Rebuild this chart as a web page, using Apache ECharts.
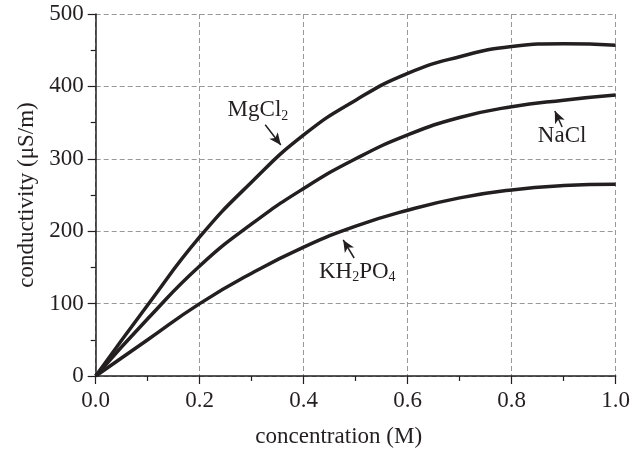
<!DOCTYPE html>
<html>
<head>
<meta charset="utf-8">
<script src="https://cdn.jsdelivr.net/npm/echarts@6/dist/echarts.min.js"></script>
<style>
  html, body { margin: 0; padding: 0; background: #fff; }
  #chart { width: 643px; height: 454px; }
</style>
</head>
<body>
<div id="chart"></div>
<script>
let concentration = [0, 0.1, 0.2, 0.3, 0.4, 0.5, 0.6, 0.7, 0.8, 0.9, 1.0];
let mgcl2 = [0, 98, 192, 268, 333, 381, 418, 441, 455, 459, 457];
let nacl = [0, 79, 152, 210, 259, 300, 333, 357, 372, 381, 388];
let kh2po4 = [0, 50, 100, 142, 178, 207, 229, 246, 257, 263, 265];

// annotation arrows: [label x, label y, arrow start x, start y, tip x, tip y]
let mgcl2Note = [0.312, 367, 0.326, 347, 0.356, 319];
let naclNote = [0.897, 331, 0.897, 344, 0.883, 366];
let kh2po4Note = [0.503, 144, 0.497, 163, 0.476, 188];

let serif = '"Liberation Serif", "Times New Roman", serif';
let ink = '#231f20';

function pairs(ys) {
    return concentration.map((x, i) => [x, ys[i]]);
}

function makeSeries(name, ys, note, labelText) {
    return {
        name: name,
        type: 'line',
        smooth: true,
        symbol: 'none',
        lineStyle: { color: ink, width: 3.5 },
        data: pairs(ys),
        markLine: {
            silent: true,
            symbol: ['none', 'arrow'],
            symbolSize: [8, 12],
            label: { show: false },
            lineStyle: { color: ink, width: 1.5, type: 'solid' },
            data: [[
                { coord: [note[2], note[3]] },
                { coord: [note[4], note[5]] }
            ]]
        },
        markPoint: {
            silent: true,
            symbol: 'circle',
            symbolSize: 0,
            data: [{ coord: [note[0], note[1]] }],
            label: {
                show: true,
                position: 'inside',
                formatter: labelText,
                color: ink,
                fontFamily: serif,
                fontSize: 23,
                rich: {
                    sub: { fontFamily: serif, fontSize: 14, color: ink, padding: [12, 0, 0, 0] }
                }
            }
        }
    };
}

let chart = echarts.init(document.getElementById('chart'));
let option = {
    backgroundColor: '#fff',
    animation: false,
    grid: { left: 95.7, right: 27.3, top: 14, bottom: 78, containLabel: false },
    xAxis: {
        type: 'value',
        min: 0,
        max: 1,
        interval: 0.2,
        name: 'concentration (M)',
        nameLocation: 'middle',
        nameGap: 49,
        nameTextStyle: { fontFamily: serif, fontSize: 23, color: ink, padding: [0, 34, 0, 0] },
        axisLine: { lineStyle: { color: ink, width: 1.5 } },
        axisTick: { inside: false, length: 8, lineStyle: { color: ink, width: 1.2 } },
        minorTick: { show: true, splitNumber: 2, length: 5, lineStyle: { color: ink, width: 1.2 } },
        axisLabel: {
            margin: 13,
            fontFamily: serif,
            fontSize: 23,
            color: ink,
            formatter: v => v.toFixed(1)
        },
        splitLine: { show: true, lineStyle: { color: '#999', type: [5, 3], width: 1 } }
    },
    yAxis: {
        type: 'value',
        min: 0,
        max: 500,
        interval: 100,
        name: 'conductivity (\u03bcS/m)',
        nameLocation: 'middle',
        nameGap: 56,
        nameTextStyle: { fontFamily: serif, fontSize: 23, color: ink },
        axisLine: { show: true, lineStyle: { color: ink, width: 1.5 } },
        axisTick: { show: true, inside: false, length: 8, lineStyle: { color: ink, width: 1.2 } },
        minorTick: { show: true, splitNumber: 2, length: 5, lineStyle: { color: ink, width: 1.2 } },
        axisLabel: { margin: 12, fontFamily: serif, fontSize: 23, color: ink },
        splitLine: { show: true, lineStyle: { color: '#999', type: [5, 3], width: 1 } }
    },
    series: [
        makeSeries('MgCl2', mgcl2, mgcl2Note, 'MgCl{sub|2}'),
        makeSeries('NaCl', nacl, naclNote, 'NaCl'),
        makeSeries('KH2PO4', kh2po4, kh2po4Note, 'KH{sub|2}PO{sub|4}')
    ]
};
chart.setOption(option);
</script>
</body>
</html>
